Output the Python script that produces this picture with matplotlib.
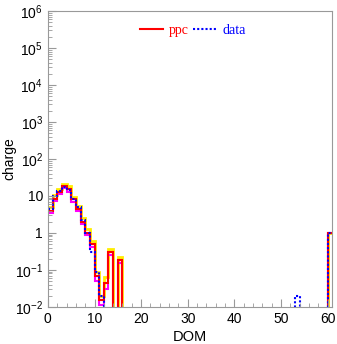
#!/usr/bin/env python3
"""Charge per DOM: ppc simulation vs data."""

import numpy as np
import matplotlib

matplotlib.use("Agg")
import matplotlib.pyplot as plt
from matplotlib.lines import Line2D

# bins 0..16, bins 17..60 mostly empty
ppc = [4.0, 8.5, 13.0, 18.0, 15.0, 8.0, 4.5, 2.0, 1.0, 0.5, 0.07, 0.015, 0.045, 0.3, 0.0, 0.18]
ppc_hi = [5.0, 10.5, 15.5, 21.5, 18.0, 9.5, 5.5, 2.5, 1.25, 0.6, 0.09, 0.02, 0.065, 0.36, 0.0, 0.22]
ppc_lo = [3.4, 7.5, 11.5, 16.0, 13.0, 7.0, 4.0, 1.7, 0.85, 0.42, 0.05, 0.011, 0.03, 0.25, 0.0, 0.15]
data = [4.3, 10.0, 14.0, 17.0, 14.5, 8.5, 5.0, 2.2, 1.0, 0.3, 0.09, 0.02]
data_extra = {53: 0.02, 60: 1.0}
ppc_extra = {60: 1.0}

N_BINS = 61
YMIN = 1e-2


def _full(values, extra):
    arr = np.zeros(N_BINS)
    arr[: len(values)] = values
    for k, v in extra.items():
        arr[k] = v
    return np.where(arr > 0, arr, 1e-6)


def main() -> None:
    plt.rcParams["font.family"] = ["Liberation Sans", "DejaVu Sans"]
    plt.rcParams["mathtext.default"] = "regular"

    fig = plt.figure(figsize=(3.37, 3.44), dpi=100)
    ax = fig.add_axes([0.142, 0.108, 0.843, 0.86])

    edges = np.arange(N_BINS + 1)
    ax.stairs(_full(ppc_hi, ppc_extra), edges, baseline=None, color="#ffee00", lw=2.0)
    ax.stairs(_full(ppc_lo, ppc_extra), edges, baseline=None, color="#ff00ff", lw=1.5)
    ax.stairs(_full(ppc, ppc_extra), edges, baseline=None, color="#ff0000", lw=1.5)
    ax.stairs(_full(data, data_extra), edges, baseline=None, color="#0000ff",
              lw=1.5, linestyle=(0, (1, 1)))

    ax.set_yscale("log")
    ax.set_ylim(YMIN, 1e6)
    ax.set_xlim(0, 60.9)

    yt = [1e-2, 1e-1, 1, 10, 1e2, 1e3, 1e4, 1e5, 1e6]
    ylabels = [r"$10^{-2}$", r"$10^{-1}$", "1", "10", r"$10^{2}$", r"$10^{3}$",
               r"$10^{4}$", r"$10^{5}$", r"$10^{6}$"]
    ax.set_yticks(yt)
    ax.set_yticklabels(ylabels)
    ax.set_xticks(range(0, 61, 10))
    ax.xaxis.set_minor_locator(matplotlib.ticker.MultipleLocator(2))

    for side in ax.spines.values():
        side.set_color("#999999")
        side.set_linewidth(0.8)
    ax.tick_params(which="both", direction="in", colors="#999999", labelcolor="black",
                   labelsize=10, right=False, top=False)
    ax.tick_params(which="major", length=6)
    ax.tick_params(which="minor", length=3)

    ax.set_xlabel("DOM", fontsize=10.5, labelpad=3)
    ax.set_ylabel("charge", fontsize=10)
    ax.yaxis.set_label_coords(-0.112, 0.5)

    handles = [Line2D([], [], color="#ff0000", lw=1.5),
               Line2D([], [], color="#0000ff", lw=1.5, linestyle=(0, (1, 1)))]
    leg = ax.legend(handles, ["ppc", "data"], loc="upper center", bbox_to_anchor=(0.51, 1.0),
                    ncol=2, frameon=False, handlelength=1.7, handletextpad=0.4,
                    columnspacing=0.3, prop={"family": "Liberation Serif", "size": 10})
    leg.get_texts()[0].set_color("#ff0000")
    leg.get_texts()[1].set_color("#0000ff")

    fig.savefig("out.png", dpi=100)


if __name__ == "__main__":
    main()
